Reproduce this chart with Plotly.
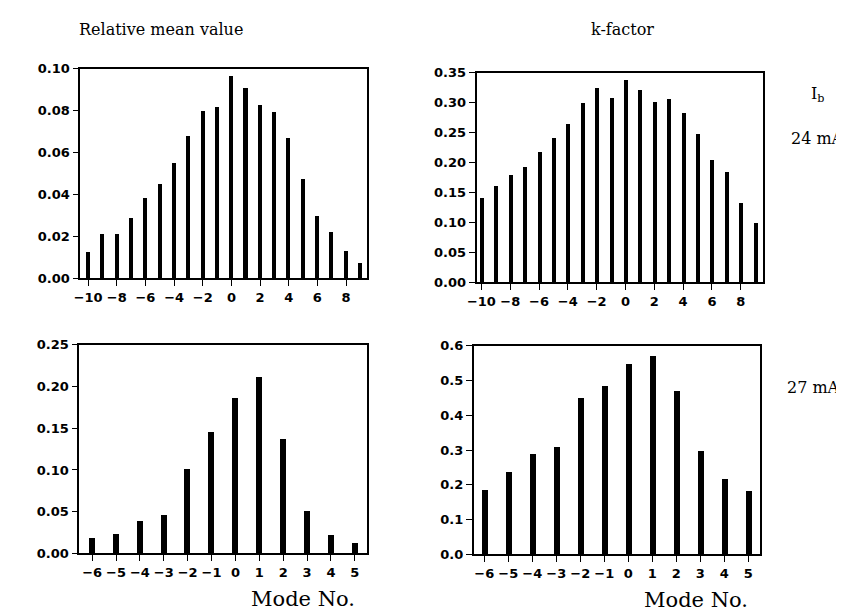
import plotly.graph_objects as go

W, H = 844, 613

modes_24 = list(range(-10, 10))
rel_mean_24 = [0.0129, 0.0215, 0.0215, 0.029, 0.0383, 0.0453, 0.055, 0.068, 0.080, 0.0817,
               0.0967, 0.0911, 0.0829, 0.0796, 0.067, 0.0476, 0.030, 0.0222, 0.013, 0.0073]
kfactor_24 = [0.1415, 0.162, 0.179, 0.193, 0.218, 0.242, 0.2645, 0.300, 0.3255, 0.309,
              0.3375, 0.322, 0.3015, 0.306, 0.283, 0.248, 0.205, 0.185, 0.133, 0.100]

modes_27 = list(range(-6, 6))
rel_mean_27 = [0.019, 0.024, 0.039, 0.046, 0.102, 0.146, 0.187, 0.212, 0.138, 0.051, 0.0226, 0.0125]
kfactor_27 = [0.187, 0.238, 0.290, 0.309, 0.450, 0.484, 0.548, 0.570, 0.470, 0.298, 0.217, 0.1825]

col_titles = ["Relative mean value", "k-factor"]
row_labels = ["24 mA", "27 mA"]

fig = go.Figure()

def px_dom(a, b, total):
    return [a / total, b / total]

def py_dom(top, bottom):
    return [1 - bottom / H, 1 - top / H]

tickfont = dict(family="DejaVu Sans", size=13, color="black", weight="bold")

panels = [
    (modes_24, rel_mean_24, 0.28, (63, 353), (55, 270), [-10.55, 9.45], [0, 0.10],
     list(range(-10, 10, 2)), [0, 0.02, 0.04, 0.06, 0.08, 0.10], ".2f"),
    (modes_24, kfactor_24, 0.28, (464, 754), (59, 274), [-10.34, 9.55], [0, 0.35],
     list(range(-10, 10, 2)), [0, 0.05, 0.10, 0.15, 0.20, 0.25, 0.30, 0.35], ".2f"),
    (modes_27, rel_mean_27, 0.25, (62, 353), (338, 552), [-6.54, 5.5], [0, 0.25],
     modes_27, [0, 0.05, 0.10, 0.15, 0.20, 0.25], ".2f"),
    (modes_27, kfactor_27, 0.25, (461, 751), (339, 553), [-6.45, 5.49], [0, 0.6],
     modes_27, [0, 0.1, 0.2, 0.3, 0.4, 0.5, 0.6], ".1f"),
]

for i, (xd, yd, bw, xdp, ydp, xr, yr, xt, yt, yfmt) in enumerate(panels, start=1):
    xa = "x" if i == 1 else f"x{i}"
    ya = "y" if i == 1 else f"y{i}"
    fig.add_trace(go.Bar(x=xd, y=yd, width=bw, marker=dict(color="black", line=dict(width=0)),
                         xaxis=xa, yaxis=ya, showlegend=False))
    xkey = "xaxis" if i == 1 else f"xaxis{i}"
    ykey = "yaxis" if i == 1 else f"yaxis{i}"
    fig.update_layout(**{
        xkey: dict(domain=px_dom(xdp[0], xdp[1], W), range=xr, anchor=ya,
                   tickvals=xt, ticks="outside", ticklen=6, tickwidth=1.3, tickcolor="black",
                   showline=True, linecolor="black", linewidth=1.5, mirror=True,
                   showgrid=False, zeroline=False, tickfont=tickfont),
        ykey: dict(domain=py_dom(ydp[0], ydp[1]), range=yr, anchor=xa,
                   tickvals=yt, tickformat=yfmt, ticks="outside", ticklen=6, tickwidth=1.3,
                   tickcolor="black", showline=True, linecolor="black", linewidth=1.5,
                   mirror=True, showgrid=False, zeroline=False, tickfont=tickfont),
    })

serif = "DejaVu Serif"
ann = [
    dict(text=col_titles[0], x=145 / W, y=1 - 15 / H, size=16),
    dict(text=col_titles[1], x=612 / W, y=1 - 15 / H, size=16),
    dict(text="Mode No.", x=288 / W, y=1 - 599 / H, size=21),
    dict(text="Mode No.", x=686 / W, y=1 - 600 / H, size=21),
    dict(text="I<sub>b</sub>", x=800 / W, y=1 - 81 / H, xanchor="left", size=16),
    dict(text="=", x=834 / W, y=1 - 79 / H, xanchor="left", size=16),
    dict(text=row_labels[0], x=780 / W, y=1 - 127 / H, xanchor="left", size=16),
    dict(text=row_labels[1], x=776 / W, y=1 - 382 / H, xanchor="left", size=16),
]
for a in ann:
    fig.add_annotation(text=a["text"], x=a["x"], y=a["y"], xref="paper", yref="paper",
                       xanchor=a.get("xanchor", "center"), yanchor="middle", showarrow=False,
                       font=dict(family=serif, size=a["size"], color="black"))

fig.update_layout(width=W, height=H, margin=dict(l=0, r=0, t=0, b=0),
                  paper_bgcolor="white", plot_bgcolor="white", bargap=0)

fig.write_html("out.html")
